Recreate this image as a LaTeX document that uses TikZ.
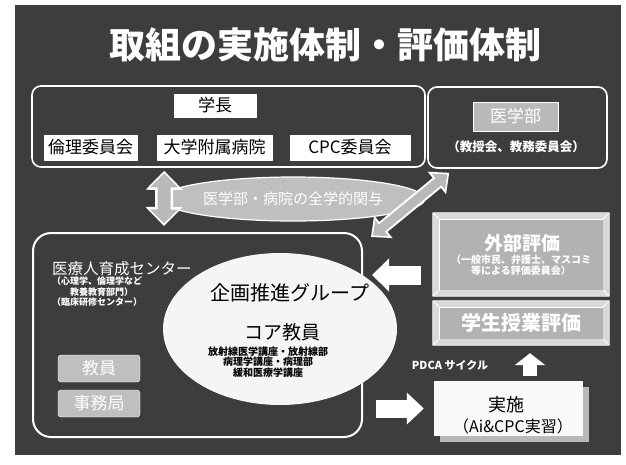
\documentclass[tikz,border=0pt]{standalone}
\usepackage{fontspec}
\setmainfont{Noto Sans CJK JP}
\usetikzlibrary{arrows.meta,shapes.geometric,shadows}

\begin{document}
\begin{tikzpicture}[x=1pt,y=-1pt, line join=round,
	font=\fontsize{17}{20}\selectfont,
	frame/.style={draw=white, line width=1.6pt, rounded corners=9pt},
	wbox/.style={draw=white, fill=white, text=black, inner sep=0pt, minimum height=25pt},
	gbox/.style={draw=white, fill=gray!50, text=white, rounded corners=3pt, inner sep=0pt, minimum width=82pt, minimum height=27pt},
	evalbox/.style={draw=white, fill=gray!60, text=white, inner sep=0pt, minimum width=164pt, font=\bfseries\fontsize{20}{22}\selectfont},
	wtext/.style={text=white, inner sep=0pt}]
	\def\bgc{black!76} \def\ring{6}
	\fill[white] (0,0) rectangle (626,464);
	\useasboundingbox (0,0) rectangle (626,464);
	\fill[\bgc] (15,5) rectangle (621,455);
	\node[wtext, font=\bfseries\fontsize{36}{40}\selectfont] (title) at (325,45) {取組の実施体制・評価体制};
	% top row
	\node[frame, minimum width=393pt, minimum height=81pt] (univ) at (228.5,126.5) {};
	\node[wbox, minimum width=82pt, minimum height=23pt] (gakucho) at (215,105.5) {学長};
	\node[wbox, minimum width=93pt] (rinri) at (90.5,147.5) {倫理委員会};
	\node[wbox, minimum width=115pt] (byoin) at (214.5,147.5) {大学附属病院};
	\node[wbox, minimum width=120pt] (cpc) at (350,147.5) {CPC委員会};
	\node[frame, minimum width=179pt, minimum height=81pt] (igakuframe) at (517.5,127.5) {};
	\node[draw=white!80, fill=gray!55, text=white, minimum width=85pt, minimum height=29pt, inner sep=0pt] (igakubu) at (515.5,116.5) {医学部};
	\node[wtext, font=\bfseries\fontsize{12.5}{15}\selectfont] (kyoju) at (516,147) {（教授会、教務委員会）};
	% lower left
	\node[frame, line width=2pt, rounded corners=18pt, minimum width=329pt, minimum height=204pt] (ikusei) at (197.5,335) {};
	\node[wtext, anchor=west, font=\fontsize{15.5}{18}\selectfont] (jinzai) at (52,269) {医療人育成センター};
	\node[wtext, anchor=north west, align=left, font=\bfseries\fontsize{9}{10.2}\selectfont] (jinzaisub) at (52,277) {（心理学、倫理学など\\\hspace{18pt}教養教育部門）\\（臨床研修センター）};
	\node[gbox] (kyoin) at (99,368.5) {教員};
	\node[gbox] (jimu) at (99,403.5) {事務局};
	\node[ellipse, fill=gray!8, minimum width=234pt, minimum height=152pt, inner sep=0pt] (grp) at (280,329) {};
	\node[font=\fontsize{20}{22}\selectfont] (kikaku) at (290,293) {企画推進グループ};
	\node[font=\fontsize{19}{22}\selectfont] (core) at (282,332) {コア教員};
	\node[align=center, font=\bfseries\fontsize{10}{10.5}\selectfont] (kouza) at (268,362) {放射線医学講座・放射線部\\病理学講座・病理部\\緩和医療学講座};
	\node[ellipse, draw=white, line width=1.2pt, fill=gray!50, text=white, minimum width=226pt, minimum height=44pt, font=\fontsize{15}{18}\selectfont] (kanyo) at (293,199) {医学部・病院の全学的関与};
	% evaluation
	\node[evalbox, minimum height=71pt] (ext) at (521,254.5) {};
	\node[evalbox, minimum height=32pt] (gak) at (521,323) {学生授業評価};
	\foreach \n in {ext,gak}{
		\fill[gray!30, even odd rule] ([shift={(-\ring,-\ring)}]\n.north west) rectangle ([shift={(\ring,\ring)}]\n.south east) (\n.north west) rectangle (\n.south east);
		\draw[white, line width=0.8pt] ([shift={(-\ring,-\ring)}]\n.north west) rectangle ([shift={(\ring,\ring)}]\n.south east)
		(\n.north west) -- ++(-\ring,-\ring) (\n.north east) -- ++(\ring,-\ring)
		(\n.south west) -- ++(-\ring,\ring) (\n.south east) -- ++(\ring,\ring);
	}
	\node[wtext, font=\bfseries\fontsize{19}{21}\selectfont] (extT) at (522,243) {外部評価};
	\node[wtext, align=center, font=\bfseries\fontsize{10}{11}\selectfont] (extS) at (521,265.5) {（一般市民、弁護士、マスコミ\\等による評価委員会）};
	\node[wtext, font=\bfseries\fontsize{11}{13}\selectfont] (pdca) at (450,365) {PDCA サイクル};
	\node[fill=gray!5, minimum width=149pt, minimum height=55pt, inner sep=0pt,
	drop shadow={shadow xshift=6pt, shadow yshift=-6pt, fill=gray!55, opacity=1}] (jisshi) at (508.5,408.5) {};
	\node[font=\fontsize{18}{20}\selectfont] (jisshiT) at (506,405) {実施};
	\node[font=\fontsize{16}{18}\selectfont] (jisshiS) at (513,426) {（Ai\&CPC実習）};
	% arrows
	\coordinate (vA) at ([xshift=133pt,yshift=-3pt]univ.south west);
	\coordinate (vB) at ([xshift=132pt,yshift=6pt]ikusei.north west);
	\draw[white, line width=18pt, line cap=butt, {Triangle[width=36pt,length=19pt]}-{Triangle[width=36pt,length=19pt]}] (vA) -- (vB);
	\draw[gray!55, line width=13pt, line cap=butt, {Triangle[width=27pt,length=14pt]}-{Triangle[width=27pt,length=14pt]}, shorten <=2.5pt, shorten >=2.5pt] (vA) -- (vB);
	\coordinate (dA) at ([xshift=8pt,yshift=-5pt]ikusei.north east);
	\coordinate (dB) at ([xshift=22pt,yshift=-4pt]igakuframe.south west);
	\draw[white, line width=13pt, line cap=butt, {Triangle[width=28pt,length=16pt]}-{Triangle[width=28pt,length=16pt]}] (dA) -- (dB);
	\draw[gray!55, line width=9pt, line cap=butt, {Triangle[width=20pt,length=11.5pt]}-{Triangle[width=20pt,length=11.5pt]}, shorten <=2.5pt, shorten >=2.5pt] (dA) -- (dB);
	\coordinate (la) at (372,275);
	\draw[white, line width=19pt, line cap=butt, -{Triangle[width=32pt,length=17pt]}, shorten <=18pt] (ext.west |- la) -- (la);
	\coordinate (ra) at (376,408.5);
	\draw[white, line width=18pt, line cap=butt, -{Triangle[width=31pt,length=17pt]}, shorten >=10pt] (ra) -- (jisshi.west);
	\coordinate (ua) at (530,0);
	\draw[white, line width=14pt, line cap=butt, -{Triangle[width=30pt,length=12pt]}, shorten <=5pt, shorten >=14pt] (jisshi.north -| ua) -- (gak.south -| ua);
\end{tikzpicture}
\end{document}
